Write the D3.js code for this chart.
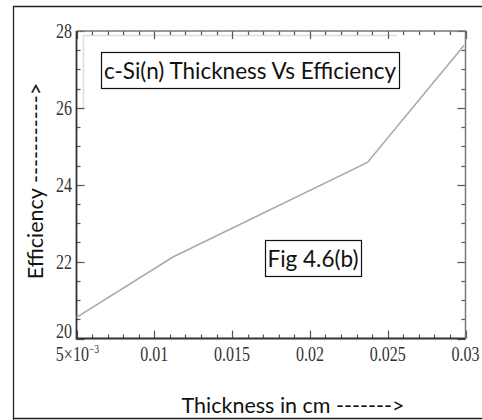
<!DOCTYPE html>
<html><head><meta charset="utf-8">
<script src="https://cdn.jsdelivr.net/npm/d3@7"></script>
<style>body{margin:0;background:#fff}svg{display:block}</style>
</head><body>
<script>
const thickness = [0.005, 0.0112, 0.0237, 0.0299];
const efficiency = [20.55, 22.12, 24.58, 27.62];
const xTicks = [0.005, 0.01, 0.015, 0.02, 0.025, 0.03];
const xTickLabels = ["5×10", "0.01", "0.015", "0.02", "0.025", "0.03"];
const yTicks = [20, 22, 24, 26, 28];
const title = "c-Si(n) Thickness Vs Efficiency";
const figLabel = "Fig 4.6(b)";
const xTitle = "Thickness in cm ------->";
const yTitle = "Efficiency ----------->";

const W = 482, H = 420;
const svg = d3.select("body").append("svg").attr("width", W).attr("height", H);
const L = 76.5, R = 465.5, T = 31, B = 338.5;
const x = d3.scaleLinear().domain([0.005, 0.03]).range([L, R]);
const y = d3.scaleLinear().domain([20, 28]).range([B, T]);

// outer frame
svg.append("path").attr("d", `M13.5,${H+2} L13.5,6.5 L${W+2},6.5 M13.5,418.5 L${W+2},418.5`)
  .attr("fill", "none").attr("stroke", "#222").attr("stroke-width", 1.3);

// faint ghost lines
svg.append("path").attr("d", `M${L},108.5 L83.5,108.5 L83.5,35.5 L397,35.5`)
  .attr("fill", "none").attr("stroke", "#ddd").attr("stroke-width", 1.5);

const g = svg.append("g");
const minorX = d3.range(0.005, 0.03001, 0.001);
const minorY = d3.range(20, 28.001, 0.5);
const tickCol = "#555";
minorX.forEach(v => {
  const major = xTicks.some(t => Math.abs(t - v) < 1e-9);
  const len = major ? 8 : 4;
  const xx = Math.round(x(v)) + 0.5;
  g.append("line").attr("x1", xx).attr("x2", xx).attr("y1", B).attr("y2", B - len).attr("stroke", tickCol).attr("stroke-width", 1.2);
  g.append("line").attr("x1", xx).attr("x2", xx).attr("y1", T).attr("y2", T + len).attr("stroke", tickCol).attr("stroke-width", 1.2);
});
minorY.forEach(v => {
  const major = yTicks.some(t => Math.abs(t - v) < 1e-9);
  const len = major ? 8 : 4;
  const yy = Math.round(y(v)) + 0.5;
  g.append("line").attr("x1", L).attr("x2", L + len).attr("y1", yy).attr("y2", yy).attr("stroke", tickCol).attr("stroke-width", 1.2);
  g.append("line").attr("x1", R).attr("x2", R - len).attr("y1", yy).attr("y2", yy).attr("stroke", tickCol).attr("stroke-width", 1.2);
});
g.append("path").attr("d", `M${L},${T} L${R},${T} L${R},${B}`).attr("fill", "none").attr("stroke", "#777").attr("stroke-width", 1.5);
g.append("path").attr("d", `M${L},${T} L${L},${B} L${R},${B}`).attr("fill", "none").attr("stroke", "#333").attr("stroke-width", 1.8);

// tick labels
const tf = "'Liberation Serif', 'DejaVu Serif', serif";
const sx = 0.8;
xTicks.forEach((v, i) => {
  const cx = i === 0 ? x(v) + 1 : x(v);
  const t = svg.append("text").attr("x", cx).attr("y", 361).attr("text-anchor", "middle")
    .attr("font-family", tf).attr("font-size", 20).attr("fill", "#333")
    .attr("transform", `translate(${cx},0) scale(${sx},1) translate(${-cx},0)`);
  t.text(xTickLabels[i]);
  if (i === 0) t.append("tspan").attr("dy", -8).attr("font-size", 12).text("−3");
});
yTicks.forEach(v => {
  const yy = v === 20 ? y(v) : y(v) + 7;
  svg.append("text").attr("x", 72).attr("y", yy).attr("text-anchor", "end")
    .attr("font-family", tf).attr("font-size", 20).attr("fill", "#333")
    .attr("transform", `translate(72,0) scale(${sx},1) translate(-72,0)`).text(v);
});

// line
svg.append("path").datum(thickness.map((t, i) => [t, efficiency[i]]))
  .attr("d", d3.line().x(d => x(d[0])).y(d => y(d[1])))
  .attr("fill", "none").attr("stroke", "#aaa").attr("stroke-width", 1.6);

// boxes
const sf = "Lato, 'Open Sans', sans-serif";
function boxText(txt, cx, cy, fs) {
  const t = svg.append("text").attr("x", cx).attr("y", cy).attr("text-anchor", "middle").attr("dominant-baseline", "central")
    .attr("font-family", sf).attr("font-size", fs).attr("fill", "#111").text(txt);
  const bb = t.node().getBBox();
  svg.insert("rect", "text").attr("x", Math.round(bb.x) - 2.5).attr("y", Math.round(cy - 18) + 0.5)
    .attr("width", Math.round(bb.width) + 5).attr("height", 36)
    .attr("fill", "#fff").attr("stroke", "#111").attr("stroke-width", 1.2);
}
boxText(title, 250, 70, 22.5);
boxText(figLabel, 313, 258, 22.5);

// axis titles
svg.append("text").attr("x", 293).attr("y", 413).attr("text-anchor", "middle")
  .attr("font-family", sf).attr("font-size", 21.5).attr("fill", "#111").text(xTitle);
svg.append("text").attr("transform", "translate(43,181) rotate(-90)").attr("text-anchor", "middle")
  .attr("font-family", sf).attr("font-size", 21.5).attr("fill", "#111").text(yTitle);
</script>
</body></html>
